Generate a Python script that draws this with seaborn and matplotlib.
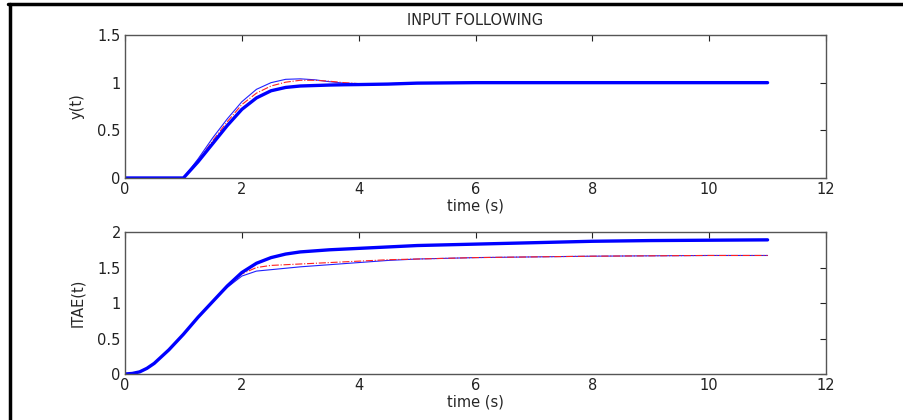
import numpy as np
import pandas as pd
import seaborn as sns
import matplotlib.pyplot as plt
from matplotlib.lines import Line2D

# dati
t_y = [0, 1, 1.25, 1.5, 1.75, 2, 2.25, 2.5, 2.75, 3, 3.25, 3.5, 3.75, 4, 4.5, 5, 6, 7, 8, 9, 10, 11]
y_thick = [0, 0, 0.17, 0.36, 0.55, 0.72, 0.84, 0.915, 0.95, 0.965, 0.97, 0.975, 0.978, 0.98, 0.985, 0.995, 1, 1, 1, 1, 1, 1]
y_thin = [0, 0, 0.2, 0.42, 0.62, 0.8, 0.93, 1.0, 1.035, 1.04, 1.03, 1.01, 0.995, 0.99, 0.99, 0.995, 1, 1, 1, 1, 1, 1]
y_red = [0, 0, 0.18, 0.39, 0.59, 0.77, 0.89, 0.965, 1.005, 1.025, 1.025, 1.015, 1.0, 0.99, 0.99, 0.995, 1, 1, 1, 1, 1, 1]

t_e = [0, 0.125, 0.25, 0.375, 0.5, 0.75, 1, 1.25, 1.5, 1.75, 2, 2.25, 2.5, 2.75, 3, 3.5, 4, 4.5, 5, 6, 7, 8, 9, 10, 11]
e_thick = [0, 0.008, 0.03, 0.08, 0.15, 0.34, 0.56, 0.8, 1.02, 1.24, 1.43, 1.56, 1.64, 1.69, 1.72, 1.75, 1.77, 1.79, 1.81, 1.83, 1.85, 1.87, 1.88, 1.885, 1.89]
e_thin = [0, 0.008, 0.03, 0.08, 0.15, 0.34, 0.56, 0.8, 1.02, 1.22, 1.38, 1.45, 1.47, 1.49, 1.51, 1.54, 1.57, 1.6, 1.62, 1.64, 1.65, 1.66, 1.665, 1.67, 1.67]
e_red = [0, 0.008, 0.03, 0.08, 0.15, 0.34, 0.56, 0.8, 1.02, 1.23, 1.41, 1.5, 1.53, 1.54, 1.55, 1.57, 1.59, 1.61, 1.62, 1.64, 1.65, 1.66, 1.665, 1.67, 1.67]

df_y = pd.DataFrame({"t": t_y, "thick": y_thick, "thin": y_thin, "red": y_red})
df_e = pd.DataFrame({"t": t_e, "thick": e_thick, "thin": e_thin, "red": e_red})

sns.set_style("white")
plt.rcParams['font.family'] = ['DejaVu Sans']
fs = 10.5

fig = plt.figure(figsize=(9.04, 4.2), dpi=100)
ax1 = fig.add_axes([0.1383, 0.5762, 0.7754, 0.3405])
ax2 = fig.add_axes([0.1383, 0.1095, 0.7754, 0.338])

for ax, df in [(ax1, df_y), (ax2, df_e)]:
    sns.lineplot(data=df, x="t", y="thin", ax=ax, color="#2020ff", linewidth=0.8)
    sns.lineplot(data=df, x="t", y="red", ax=ax, color="#ff2020", linewidth=0.8, linestyle="-.")
    sns.lineplot(data=df, x="t", y="thick", ax=ax, color="#0000ff", linewidth=2.4,
                 solid_joinstyle="round")
    ax.set_xlim(0, 12)
    ax.set_xticks([0, 2, 4, 6, 8, 10, 12])
    ax.set_xlabel("time (s)", fontsize=fs, labelpad=1)
    ax.tick_params(direction="in", top=True, right=True, length=4, width=0.8,
                   labelsize=fs, colors="#222222", pad=3)
    for s in ax.spines.values():
        s.set_color("#555555")
        s.set_linewidth(1.0)
        s.set_visible(True)

ax1.set_ylim(0, 1.5)
ax1.set_yticks([0, 0.5, 1, 1.5])
ax1.set_yticklabels(["0", "0.5", "1", "1.5"])
ax1.set_ylabel("y(t)", fontsize=fs, labelpad=9)
ax1.set_title("INPUT FOLLOWING", fontsize=fs, pad=7)

ax2.set_ylim(0, 2)
ax2.set_yticks([0, 0.5, 1, 1.5, 2])
ax2.set_yticklabels(["0", "0.5", "1", "1.5", "2"])
ax2.set_ylabel("ITAE(t)", fontsize=fs, labelpad=9)

# cornice nera in alto e a sinistra
fig.add_artist(Line2D([0.009, 1.0], [0.991, 0.991], color="black", linewidth=2.5, transform=fig.transFigure))
fig.add_artist(Line2D([0.011, 0.011], [0.0, 0.991], color="black", linewidth=2.5, transform=fig.transFigure))

fig.savefig("out.png", dpi=100)
